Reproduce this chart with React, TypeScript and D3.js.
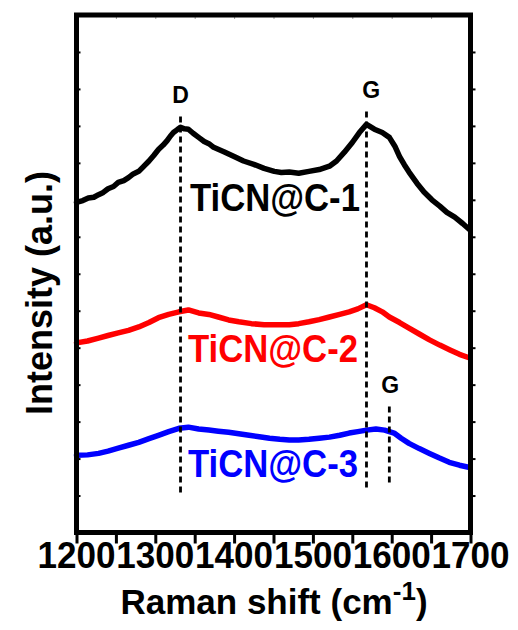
import React, {useEffect, useRef} from 'react';
import * as d3 from 'd3';

// Raman shift (cm-1) / intensity (a.u.)
const seriesC1: [number, number][] = [
    [1200, 8.93], [1208, 8.98], [1215, 9.05], [1222, 9.07], [1228, 9.14], [1234, 9.2], [1240, 9.3], [1247, 9.36],
    [1253, 9.47], [1260, 9.52], [1266, 9.6], [1272, 9.7], [1279, 9.77], [1285, 9.9], [1292, 10.05], [1298, 10.2],
    [1304, 10.36], [1310, 10.48], [1315, 10.6], [1319, 10.72], [1323, 10.82], [1328, 10.9], [1332, 10.96],
    [1337, 10.92], [1342, 10.91], [1348, 10.8], [1355, 10.69], [1362, 10.58], [1368, 10.52], [1374, 10.42],
    [1387, 10.3], [1400, 10.17], [1412, 10.05], [1425, 9.96], [1438, 9.85], [1451, 9.77], [1460, 9.74],
    [1470, 9.75], [1482, 9.72], [1495, 9.77], [1508, 9.82], [1521, 9.91], [1530, 10.05], [1540, 10.29],
    [1550, 10.55], [1559, 10.82], [1568, 11.04], [1578, 10.91], [1588, 10.82], [1597, 10.69], [1604, 10.45],
    [1610, 10.17], [1616, 9.95], [1622, 9.75], [1632, 9.45], [1641, 9.21], [1651, 9.0], [1661, 8.83],
    [1670, 8.66], [1680, 8.53], [1690, 8.36], [1699, 8.19]
];
const seriesC2: [number, number][] = [
    [1200, 5.13], [1214, 5.18], [1228, 5.26], [1240, 5.33], [1253, 5.4], [1266, 5.47], [1279, 5.56],
    [1292, 5.68], [1304, 5.81], [1317, 5.9], [1330, 5.97], [1342, 6.02], [1355, 5.94], [1368, 5.9],
    [1380, 5.83], [1393, 5.75], [1406, 5.7], [1422, 5.65], [1438, 5.62], [1451, 5.62], [1470, 5.62],
    [1482, 5.65], [1495, 5.7], [1508, 5.76], [1521, 5.83], [1534, 5.9], [1546, 5.97], [1557, 6.05],
    [1568, 6.16], [1578, 6.08], [1588, 5.97], [1597, 5.83], [1610, 5.68], [1622, 5.53], [1635, 5.37],
    [1648, 5.21], [1661, 5.07], [1674, 4.94], [1686, 4.82], [1699, 4.72]
];
const seriesC3: [number, number][] = [
    [1200, 2.09], [1214, 2.1], [1228, 2.14], [1240, 2.2], [1253, 2.28], [1266, 2.36], [1279, 2.44],
    [1292, 2.54], [1304, 2.63], [1317, 2.73], [1330, 2.82], [1342, 2.85], [1355, 2.8], [1368, 2.77],
    [1380, 2.74], [1393, 2.71], [1406, 2.67], [1419, 2.63], [1432, 2.59], [1445, 2.55], [1458, 2.52],
    [1470, 2.5], [1482, 2.5], [1495, 2.52], [1508, 2.55], [1521, 2.58], [1534, 2.63], [1546, 2.69],
    [1557, 2.73], [1568, 2.77], [1580, 2.8], [1591, 2.77], [1603, 2.69], [1612, 2.55], [1622, 2.41],
    [1635, 2.27], [1648, 2.14], [1660, 2.02], [1673, 1.9], [1686, 1.82], [1699, 1.76]
];

const sampleNames = ['TiCN@C-1', 'TiCN@C-2', 'TiCN@C-3'];
const sampleColors = ['#000000', '#ff0000', '#0000ff'];
const sampleLabelPos: [number, number][] = [[1344, 8.7], [1341.5, 4.61], [1341.5, 1.49]];

// dashed peak markers
const peakX = [1332, 1568, 1597];
const peakY0 = [1.08, 1.22, 1.35];
const peakY1 = [11.3, 11.44, 3.5];
const peakNames = ['D', 'G', 'G'];
const peakLabelX = [1332, 1574, 1598];
const peakLabelY = [11.63, 11.76, 3.77];

const xTickLabels = [1200, 1300, 1400, 1500, 1600, 1700];

const W = 518;
const H = 630;
const FONT = '"Liberation Sans", Arial, sans-serif';

const App = () => {
    const svgRef = useRef<SVGSVGElement>(null);

    useEffect(() => {
        const svg = d3.select(svgRef.current);
        svg.selectAll('*').remove();

        const x = d3.scaleLinear().domain([1200, 1700]).range([76.5, 470.5]);
        const y = d3.scaleLinear().domain([0, 14]).range([532.5, 15]);

        const line = d3.line<[number, number]>()
            .x(d => x(d[0]))
            .y(d => y(d[1]));

        const all = [seriesC1, seriesC2, seriesC3];
        svg.append('g')
            .selectAll('path')
            .data(all)
            .join('path')
            .attr('d', d => line(d))
            .attr('fill', 'none')
            .attr('stroke', (d, i) => sampleColors[i])
            .attr('stroke-width', 5.5)
            .attr('stroke-linejoin', 'round')
            .attr('stroke-linecap', 'round');

        // peak lines
        svg.append('g')
            .selectAll('line')
            .data(peakX)
            .join('line')
            .attr('x1', d => x(d))
            .attr('x2', d => x(d))
            .attr('y1', (d, i) => y(peakY0[i]))
            .attr('y2', (d, i) => y(peakY1[i]))
            .attr('stroke', '#000')
            .attr('stroke-width', 2.8)
            .attr('stroke-dasharray', '6,4');

        svg.append('g')
            .selectAll('text')
            .data(peakNames)
            .join('text')
            .attr('x', (d, i) => x(peakLabelX[i]))
            .attr('y', (d, i) => y(peakLabelY[i]))
            .attr('text-anchor', 'middle')
            .attr('font-family', FONT)
            .attr('font-weight', 'bold')
            .attr('font-size', 23)
            .text(d => d);

        svg.append('g')
            .selectAll('text')
            .data(sampleNames)
            .join('text')
            .attr('x', (d, i) => x(sampleLabelPos[i][0]))
            .attr('y', (d, i) => y(sampleLabelPos[i][1]))
            .attr('fill', (d, i) => sampleColors[i])
            .attr('font-family', FONT)
            .attr('font-weight', 'bold')
            .attr('font-size', 38)
            .attr('textLength', 170)
            .attr('lengthAdjust', 'spacingAndGlyphs')
            .text(d => d);

        // axes
        const xb = svg.append('g').attr('transform', `translate(0,${y(0)})`)
            .call(d3.axisBottom(x).tickValues(d3.range(1200, 1701, 50)).tickSize(11).tickFormat(() => ''));
        xb.select('.domain').remove();
        xb.selectAll('line').attr('stroke-width', 3);

        const xt = svg.append('g').attr('transform', `translate(0,${y(14)})`)
            .call(d3.axisBottom(x).tickValues(d3.range(1250, 1700, 50)).tickSize(4).tickFormat(() => ''));
        xt.select('.domain').remove();
        xt.selectAll('line').attr('stroke', '#999').attr('stroke-width', 1);

        const yl = svg.append('g').attr('transform', `translate(${x(1200)},0)`)
            .call(d3.axisRight(y).tickValues(d3.range(1, 14)).tickSize(4).tickFormat(() => ''));
        yl.select('.domain').remove();
        yl.selectAll('line').attr('stroke-width', 2);

        const yr = svg.append('g').attr('transform', `translate(${x(1700)},0)`)
            .call(d3.axisRight(y).tickValues(d3.range(1, 14)).tickSize(5).tickFormat(() => ''));
        yr.select('.domain').remove();
        yr.selectAll('line').attr('stroke-width', 2);

        svg.append('rect')
            .attr('x', x(1200))
            .attr('y', y(14))
            .attr('width', x(1700) - x(1200))
            .attr('height', y(0) - y(14))
            .attr('fill', 'none')
            .attr('stroke', '#000')
            .attr('stroke-width', 5);

        svg.append('g')
            .selectAll('text')
            .data(xTickLabels)
            .join('text')
            .attr('x', d => x(d))
            .attr('y', 568)
            .attr('text-anchor', 'middle')
            .attr('font-family', FONT)
            .attr('font-weight', 'bold')
            .attr('font-size', 36)
            .attr('textLength', 78)
            .attr('lengthAdjust', 'spacingAndGlyphs')
            .text(d => d);

        const xt2 = svg.append('text')
            .attr('x', 274)
            .attr('y', 614)
            .attr('text-anchor', 'middle')
            .attr('font-family', FONT)
            .attr('font-weight', 'bold')
            .attr('font-size', 35);
        xt2.append('tspan').text('Raman shift (cm');
        xt2.append('tspan').attr('font-size', 26).attr('dy', -14).text('-1');
        xt2.append('tspan').attr('dy', 14).text(')');

        svg.append('text')
            .attr('transform', `translate(52,293) rotate(-90)`)
            .attr('text-anchor', 'middle')
            .attr('font-family', FONT)
            .attr('font-weight', 'bold')
            .attr('font-size', 36)
            .text('Intensity (a.u.)');
    }, []);

    return (
        <svg ref={svgRef} width={W} height={H}
             style={{position: 'absolute', left: 0, top: 0, background: '#fff'}}/>
    );
};

export default App;
